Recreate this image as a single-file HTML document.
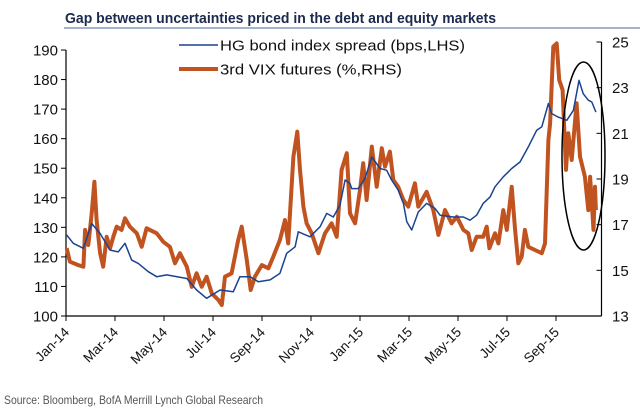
<!DOCTYPE html>
<html><head><meta charset="utf-8"><style>
html,body{margin:0;padding:0;background:#fff;}
svg{display:block;font-family:"Liberation Sans",sans-serif;}
</style></head><body>
<svg id="chart" width="640" height="412" viewBox="0 0 640 412">
<text x="65" y="23" font-family="Liberation Sans Narrow, Liberation Sans, sans-serif" font-weight="bold" font-size="15" fill="#1b2a4e" textLength="431" lengthAdjust="spacingAndGlyphs">Gap between uncertainties priced in the debt and equity markets</text>
<line x1="64" y1="28" x2="640" y2="28" stroke="#4a6a9a" stroke-width="1"/>
<g id="axes"></g>
<g id="series"></g>
<ellipse cx="583.5" cy="156" rx="21.5" ry="94" fill="none" stroke="#000" stroke-width="1.5"/>
<g>
<line x1="179" y1="45" x2="218" y2="45" stroke="#1a4390" stroke-width="1.5"/>
<text x="220" y="50.5" font-size="15" fill="#111" textLength="245" lengthAdjust="spacingAndGlyphs">HG bond index spread (bps,LHS)</text>
<line x1="179" y1="69" x2="218" y2="69" stroke="#c0531f" stroke-width="4"/>
<text x="220" y="74.5" font-size="15" fill="#111" textLength="182" lengthAdjust="spacingAndGlyphs">3rd VIX futures (%,RHS)</text>
</g>
<text x="4" y="404" font-family="Liberation Sans Narrow, Liberation Sans, sans-serif" font-size="12" fill="#555" textLength="259" lengthAdjust="spacingAndGlyphs">Source: Bloomberg, BofA Merrill Lynch Global Research</text>
</svg>
<script>
const xTickLabels=["Jan-14","Mar-14","May-14","Jul-14","Sep-14","Nov-14","Jan-15","Mar-15","May-15","Jul-15","Sep-15"];
const leftTicks=[100,110,120,130,140,150,160,170,180,190];
const rightTicks=[13,15,17,19,21,23,25];
const hgMonths=[0.03,0.30,0.71,1.05,1.39,1.80,2.13,2.41,2.68,2.95,3.36,3.70,4.11,4.93,5.33,5.74,6.29,6.83,7.10,7.51,7.85,8.33,8.73,9.01,9.35,9.48,9.96,10.37,10.64,10.91,11.18,11.39,11.59,11.66,11.93,12.20,12.48,12.82,13.09,13.29,13.56,13.77,13.91,14.11,14.38,14.72,15.06,15.27,15.81,16.22,16.49,16.76,17.03,17.31,17.51,17.85,18.19,18.53,18.87,19.21,19.42,19.69,19.82,20.09,20.44,20.71,20.94,21.11,21.32,21.46,21.63];
const hgValues=[127.4,124.6,122.9,131.3,127.9,122.3,121.7,124.6,118.9,117.8,115,113.3,113.9,112.7,108.8,106,108.8,108.2,113.3,113.3,111.6,112.2,114.4,121.2,123.4,128.5,126.8,130.2,134.7,133.5,137.5,146,144.8,143.1,143.1,146.5,153.8,149.9,149.3,146,142.6,138.1,131.9,129.1,135.2,138.1,136.4,134.1,133.5,133.5,132.4,134.1,138.1,140.3,143.7,147.1,149.9,152.1,157.2,162.8,164,171.9,168.5,167.3,166.2,169.6,179.7,175.2,173,172.4,169];
const vixMonths=[0.03,0.16,0.50,0.71,0.78,0.91,1.05,1.16,1.25,1.39,1.52,1.66,1.80,1.93,2.07,2.27,2.41,2.61,2.89,3.09,3.29,3.70,3.97,4.24,4.45,4.65,4.93,5.13,5.33,5.54,5.74,5.95,6.22,6.36,6.49,6.76,7.03,7.17,7.38,7.54,7.71,7.99,8.26,8.46,8.73,8.94,9.07,9.28,9.44,9.55,9.69,9.82,10.03,10.30,10.57,10.84,11.05,11.25,11.46,11.59,11.80,12.00,12.13,12.27,12.48,12.68,12.89,13.02,13.22,13.36,13.56,13.77,13.97,14.24,14.38,14.72,14.99,15.20,15.47,15.74,15.95,16.22,16.42,16.56,16.76,17.03,17.17,17.28,17.51,17.65,17.85,17.99,18.19,18.33,18.46,18.60,18.73,18.87,19.14,19.42,19.55,19.69,19.76,19.89,20.03,20.13,20.27,20.41,20.50,20.64,20.84,20.98,21.18,21.32,21.39,21.53,21.59,21.63];
const vixValues=[15.97,15.38,15.23,15.16,16.77,16.11,17.5,18.88,17.2,15.75,15.16,16.47,15.97,16.47,16.91,16.77,17.28,16.91,16.62,16.03,16.84,16.62,16.25,16.03,15.31,15.75,15.16,14.28,14.87,14.28,14.72,13.99,13.7,13.48,14.72,14.87,16.33,16.91,15.45,14.14,14.72,15.23,15.09,15.6,16.33,17.2,16.18,19.98,21.07,19.4,17.79,17.06,16.62,15.75,16.62,17.06,16.47,19.4,20.13,17.5,17.06,18.52,19.69,18.08,20.42,18.66,20.35,19.54,20.2,18.96,18.66,18.08,17.79,18.81,17.79,18.44,17.64,16.55,17.64,17.06,17.35,16.77,16.62,15.89,16.47,16.47,16.91,15.97,16.62,16.18,17.64,16.77,18.66,16.77,15.31,15.6,16.77,16.03,15.89,15.75,16.18,20.71,21.44,24.8,24.94,23.34,22.9,19.4,21,19.83,22.32,19.98,19.1,17.64,19.1,16.77,18.66,17.64];

const NS="http://www.w3.org/2000/svg";
const X0=66,X1=601.5,YB=316;
const xScale=m=>X0+m*24.5;
const yL=v=>YB-(v-100)*(266/90);
const yR=v=>YB-(v-13)*(274/12);
function mk(tag,attrs,parent){const e=document.createElementNS(NS,tag);for(const k in attrs)e.setAttribute(k,attrs[k]);parent.appendChild(e);return e;}
const axes=document.getElementById('axes');
let e=mk('line',{x1:X0,y1:yL(190),x2:X0,y2:YB,stroke:'#000','stroke-width':1.2},axes);


e=mk('line',{x1:X0,y1:YB,x2:X1,y2:YB,stroke:'#000','stroke-width':1.2},axes);


e=mk('line',{x1:X1,y1:yR(25),x2:X1,y2:YB,stroke:'#000','stroke-width':1.2},axes);


leftTicks.forEach(v=>{
 const y=yL(v);
 let t=mk('line',{x1:X0-5,y1:y,x2:X0,y2:y,stroke:'#000'},axes);
 
 
 let l=mk('text',{x:X0-8,y:y+5.5,'text-anchor':'end','font-size':15,fill:'#111'},axes);
 l.textContent=v;
 
 
});
rightTicks.forEach(v=>{
 const y=yR(v);
 let t=mk('line',{x1:X1-5,y1:y,x2:X1,y2:y,stroke:'#000'},axes);
 
 
 let l=mk('text',{x:612,y:y+5.5,'font-size':15,fill:'#111'},axes);
 l.textContent=v;
 
 
});
xTickLabels.forEach((s,i)=>{
 const x=xScale(i*2);
 let t=mk('line',{x1:x,y1:YB,x2:x,y2:YB+5,stroke:'#000'},axes);
 
 
 let l=mk('text',{x:x+4,y:YB+17,'text-anchor':'end','font-size':13.5,fill:'#111',transform:`rotate(-45 ${x+4} ${YB+17})`},axes);
 l.textContent=s;
 
 
});
const ser=document.getElementById('series');
let d=vixMonths.map((m,i)=>(i?'L':'M')+xScale(m).toFixed(1)+' '+yR(vixValues[i]).toFixed(1)).join(' ');
let p=mk('path',{d:d,fill:'none',stroke:'#c0531f','stroke-width':4,'stroke-linejoin':'round'},ser);


d=hgMonths.map((m,i)=>(i?'L':'M')+xScale(m).toFixed(1)+' '+yL(hgValues[i]).toFixed(1)).join(' ');
p=mk('path',{d:d,fill:'none',stroke:'#1a4390','stroke-width':1.5,'stroke-linejoin':'round'},ser);


</script>
</body></html>
